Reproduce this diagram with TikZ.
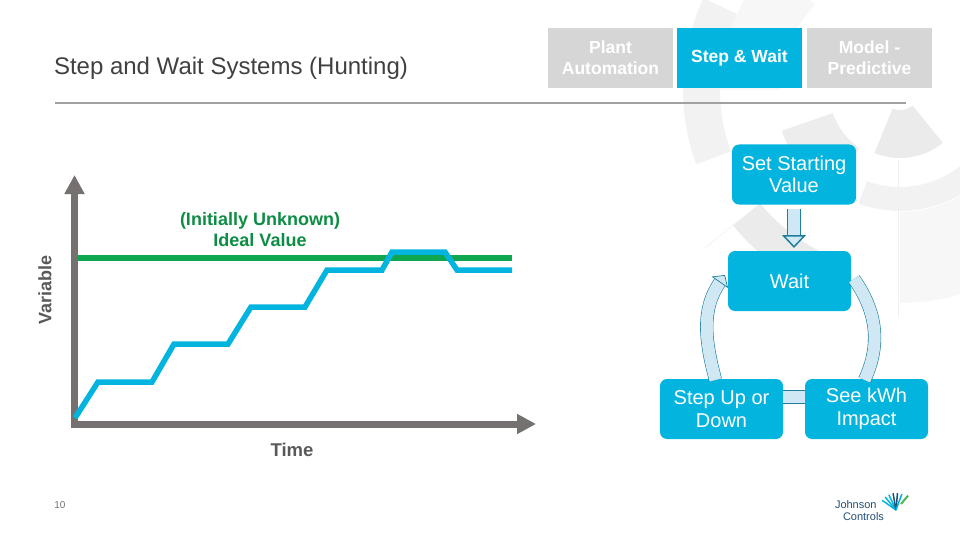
\documentclass[tikz,border=0pt]{standalone}
\usepackage{fontspec}
\setmainfont{Liberation Sans}
\usepackage{xcolor}
\usetikzlibrary{positioning,arrows.meta,calc}
\definecolor{jcblue}{HTML}{02B4DE}
\definecolor{jcgray}{HTML}{D6D6D6}
\definecolor{jcgreen}{HTML}{0FA650}
\definecolor{axisgray}{HTML}{767171}
\definecolor{bandfill}{HTML}{CFE8F3}
\definecolor{bandline}{HTML}{1F7F9C}
\definecolor{logoblue}{HTML}{1F4E79}
\newcommand{\px}[2]{\fontsize{#1}{#2}\selectfont}
% ring piece of the wheel behind the slide: radii, angles, grey
\newcommand{\wheelpiece}[5]{%
  \fill[black!#5] plot[domain=#3:#4, samples=24] ({900+#1*cos(\x)},{90+#1*sin(\x)})
    -- plot[domain=#4:#3, samples=24] ({900+#2*cos(\x)},{90+#2*sin(\x)}) -- cycle;}

\begin{document}
\begin{tikzpicture}[
  x=1pt, y=-1pt,
  >=Stealth,
  every node/.style={outer sep=0pt, inner sep=0pt},
  tabbox/.style={minimum width=125pt, minimum height=60pt, align=center, text=white, font=\bfseries\px{17.5}{21}},
  offtab/.style={tabbox, fill=jcgray},
  ontab/.style={tabbox, fill=jcblue},
  flow/.style={fill=jcblue, rounded corners=7pt, minimum width=123pt, minimum height=60pt, align=center, text=white, font=\px{20}{22.5}},
  band/.style={draw=bandline, line width=0.6pt, double=bandfill, double distance=12pt},
  strongband/.style={draw=bandline, line width=1.3pt, double=bandfill, double distance=11.5pt},
  axis/.style={axisgray, line width=7pt},
  arr/.style={-{Triangle[length=19pt, width=19pt]}},
  bandarr/.style={-{Triangle[length=9pt, width=20pt, line width=0.7pt, fill=bandfill]}},
  strongarr/.style={-{Triangle[length=13pt, width=24pt, line width=1.5pt, fill=bandfill]}},
]
\useasboundingbox (0,0) rectangle (960,540);

% Wheel
\wheelpiece{180}{217}{160}{205}{5}
\wheelpiece{71}{125}{125}{161}{7}
\wheelpiece{20}{68}{51}{112}{8}
\wheelpiece{97}{121}{30}{110}{5}
\wheelpiece{180}{215}{117}{141}{8}
\wheelpiece{122}{213}{40}{90}{3}
\wheelpiece{120}{180}{180}{225}{3}
\draw[black!6, line width=0.6pt] (898,160) -- (898,317);
\draw[black!6, line width=0.6pt] (705,248) -- (733,225);

% Title
\node[anchor=base west, font=\px{24}{28}, text=black!75] (title) at (54,75) {Step and Wait Systems (Hunting)};
\coordinate (ruleL) at (55,103);
\coordinate (ruleR) at (906,103);
\draw[black!37, line width=1.5pt] (ruleL) -- (ruleR);

% Tabs
\node[offtab] (plant) at (610.5,58) {Plant\\Automation};
\node[ontab, right=4pt of plant] (stepwait) {Step \& Wait};
\node[offtab, right=5pt of stepwait] (model) {Model -\\Predictive};

% Flow
\node[flow, minimum width=124pt] (start) at (794,174.5) {Set Starting\\Value};
\node[flow] (wait) at (789.5,281) {Wait};
\node[flow] (stepud) at (721.5,409) {Step Up or\\Down};
\node[flow] (kwh) at (866.5,409) {See kWh\\Impact};

\draw[strongband, strongarr, shorten >=3pt, shorten <=4pt] (start.south) -- (start.south |- wait.north);
\draw[band] ([xshift=3pt,yshift=2pt]wait.east) to[out=-55, in=65] ([xshift=-2pt,yshift=-1pt]kwh.north);
\draw[band] ([yshift=12pt]kwh.west) -- ([yshift=12pt]stepud.east);
\draw[band, bandarr] ([xshift=-6pt,yshift=-1pt]stepud.north) to[out=105, in=235] ([xshift=-3pt,yshift=6pt]wait.west);

% Chart
\coordinate (orig) at (74.5,424);
\coordinate (ytip) at (74.5,175);
\coordinate (xtip) at (536,424);
\draw[axis, arr] ([yshift=3.5pt]orig) -- (ytip);
\draw[axis, arr] ([xshift=-3.5pt]orig) -- (xtip);
\coordinate (idealL) at (78,258);
\coordinate (idealR) at (512,258);
\draw[jcgreen, line width=6pt] (idealL) -- (idealR);
\draw[jcblue, line width=5.5pt] (75,418) -- (98,382) -- (152,382) -- (174,344) -- (228,344) -- (251,307) -- (305,307) -- (327,270) -- (382,270) -- (392,252) -- (445,252) -- (457,270) -- (512,270);

\node[align=center, font=\bfseries\px{18}{21}, text=jcgreen!85!black] (ideal) at (260,230) {(Initially Unknown)\\Ideal Value};
\node[font=\bfseries\px{18.5}{22}, text=black!65] (timelab) at (292,450) {Time};
\node[rotate=90, font=\bfseries\px{18}{22}, text=black!65] (varlab) at (45,290) {Variable};
\node[font=\px{10}{12}, text=black!55] (pagenum) at (60,505) {10};

% Logo
\node[anchor=base west, font=\px{11}{13}, text=logoblue] (logoa) at (835,508) {Johnson};
\node[anchor=base west, font=\px{11}{13}, text=logoblue] (logob) at (843,520) {Controls};
\foreach \a/\c in {145/jcblue,130/jcblue,115/jcblue,100/logoblue,85/logoblue,70/jcblue} {
  \draw[\c, line width=1.5pt] (896,510) -- ++(-\a:17);
}
\draw[green!60!black!70, line width=2pt] (901,504) -- ++(-50:11);
\end{tikzpicture}
\end{document}
